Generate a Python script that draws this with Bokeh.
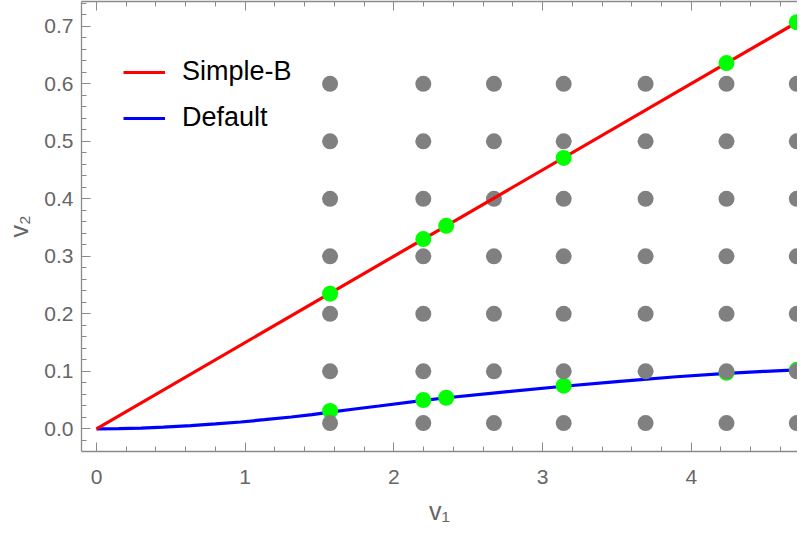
from bokeh.plotting import figure
from bokeh.models import (Range1d, LinearAxis, SingleIntervalTicker, NumeralTickFormatter,
                          Legend, LegendItem, CustomJSTickFormatter)
from bokeh.embed import file_html
from bokeh.resources import INLINE

# ---- data ----
grid_x = [1.571, 2.198, 2.673, 3.142, 3.693, 4.237, 4.71]
grid_y = [0.01, 0.1, 0.2, 0.3, 0.4, 0.5, 0.6]

simple_x = [0.0, 4.712]
simple_y = [0.0, 0.707]

default_x = [0.0, 0.15, 0.3, 0.45, 0.634, 0.8, 0.97, 1.13, 1.31, 1.45, 1.571, 1.75, 1.9, 2.2,
             2.356, 2.7, 3.142, 3.5, 3.9, 4.24, 4.5, 4.712]
default_y = [0.0, 0.0002, 0.001, 0.0028, 0.0055, 0.0085, 0.0118, 0.0158, 0.0205, 0.0245, 0.029,
             0.0348, 0.0396, 0.0495, 0.054, 0.063, 0.074, 0.082, 0.0905, 0.0965, 0.100, 0.1025]

green_x = [1.571, 2.198, 2.352, 3.142, 4.237, 4.71]
green_simple_y = [0.235, 0.330, 0.353, 0.471, 0.636, 0.707]
green_default_y = [0.031, 0.050, 0.054, 0.075, 0.0975, 0.1025]

legend_labels = ["Simple-B", "Default"]

AXIS_COL = "#8a8a8a"
TEXT_COL = "#666666"
FONT = "Liberation Sans"

p = figure(width=797, height=527, output_backend="svg", toolbar_location=None,
           x_range=Range1d(-0.1008, 4.7146), y_range=Range1d(-0.0395, 0.7431),
           x_axis_location=None, y_axis_location=None,
           min_border_left=81, min_border_right=0, min_border_top=1, min_border_bottom=76)
p.grid.visible = False
p.outline_line_color = None
p.background_fill_color = "white"
p.border_fill_color = "white"

gx, gy = [], []
for yv in grid_y:
    for xv in grid_x:
        gx.append(xv)
        gy.append(yv)

r_def = p.line(default_x, default_y, line_color="#0000ff", line_width=3.2)
p.scatter(green_x, green_default_y, size=16, fill_color="#00ff00", line_color=None)
p.scatter(gx, gy, size=16, fill_color="#808080", line_color=None)
r_sim = p.line(simple_x, simple_y, line_color="#ff0000", line_width=3.2)
p.scatter(green_x, green_simple_y, size=16, fill_color="#00ff00", line_color=None)


def style_axis(ax):
    ax.axis_line_color = AXIS_COL
    ax.axis_line_width = 1.3
    ax.major_tick_line_color = AXIS_COL
    ax.minor_tick_line_color = AXIS_COL
    ax.major_tick_in = 9
    ax.major_tick_out = 0
    ax.minor_tick_in = 5
    ax.minor_tick_out = 0
    ax.major_label_text_color = TEXT_COL
    ax.major_label_text_font = FONT
    ax.major_label_text_font_size = "21px"
    ax.axis_label_text_color = TEXT_COL
    ax.axis_label_text_font = FONT
    ax.axis_label_text_font_style = "normal"
    ax.axis_label_text_font_size = "25px"


xax = LinearAxis(ticker=SingleIntervalTicker(interval=1, num_minor_ticks=5),
                 formatter=NumeralTickFormatter(format="0"), axis_label="v₁")
style_axis(xax)
xax.major_label_standoff = 18
xax.axis_label_standoff = 10
p.add_layout(xax, "below")

yax = LinearAxis(ticker=SingleIntervalTicker(interval=0.1, num_minor_ticks=5),
                 formatter=NumeralTickFormatter(format="0.0"), axis_label="v₂")
style_axis(yax)
yax.major_label_standoff = 8
yax.axis_label_standoff = 8
p.add_layout(yax, "left")

tax = LinearAxis(ticker=SingleIntervalTicker(interval=1, num_minor_ticks=5),
                 formatter=CustomJSTickFormatter(code="return ''"))
style_axis(tax)
tax.major_label_standoff = 0
tax.major_label_text_font_size = "0px"
p.add_layout(tax, "above")

legend = Legend(items=[LegendItem(label=legend_labels[0], renderers=[r_sim]),
                       LegendItem(label=legend_labels[1], renderers=[r_def])],
                location=(42, 318), padding=0, margin=0, spacing=15,
                glyph_width=42, glyph_height=30, label_height=30, label_standoff=17,
                label_text_font=FONT, label_text_font_size="27px", label_text_color="black",
                background_fill_alpha=0, border_line_color=None)
p.add_layout(legend)

open("out.html", "w").write(file_html(p, INLINE))
